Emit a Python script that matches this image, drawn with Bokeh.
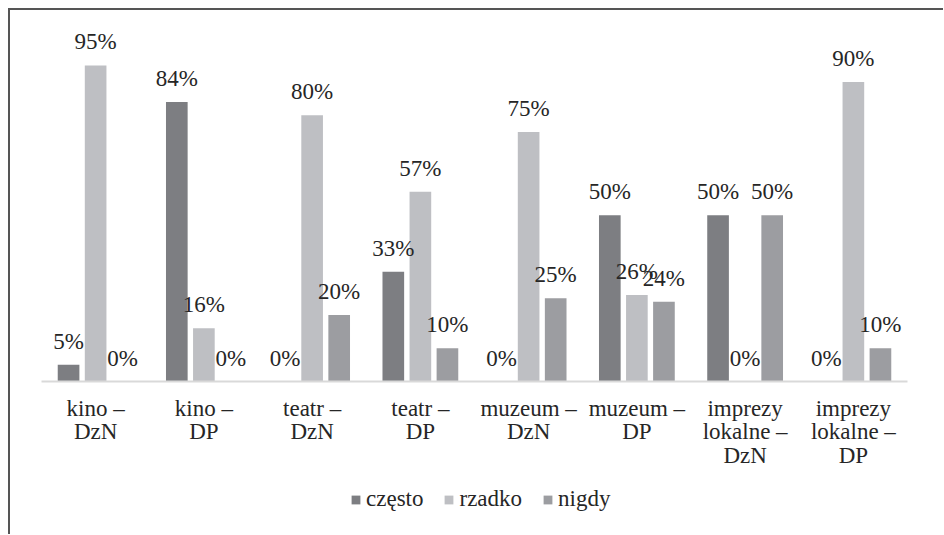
from bokeh.plotting import figure
from bokeh.models import FactorRange, ColumnDataSource, LabelSet, Legend, LegendItem
from bokeh.layouts import column
from bokeh.transform import dodge
from bokeh.core.properties import value
from bokeh.embed import file_html
from bokeh.resources import INLINE

categories = ["kino –\nDzN", "kino –\nDP", "teatr –\nDzN", "teatr –\nDP",
              "muzeum –\nDzN", "muzeum –\nDP",
              "imprezy\nlokalne –\nDzN", "imprezy\nlokalne –\nDP"]
series = ["często", "rzadko", "nigdy"]
czesto = [5, 84, 0, 33, 0, 50, 50, 0]
rzadko = [95, 16, 80, 57, 75, 26, 0, 90]
nigdy = [0, 0, 20, 10, 25, 24, 50, 10]

colors = ["#7d7e82", "#bebfc3", "#9c9da1"]
FONT = "Liberation Serif"
TXT = "#262626"

data = dict(cat=categories, czesto=czesto, rzadko=rzadko, nigdy=nigdy)
keys = ["czesto", "rzadko", "nigdy"]
for k in keys:
    data[k + "_lbl"] = [f"{v}%" for v in data[k]]
src = ColumnDataSource(data)

p = figure(x_range=FactorRange(*categories), y_range=(0, 110),
           frame_width=866, frame_height=366, output_backend="svg", toolbar_location=None,
           y_axis_location=None,
           min_border_left=31, min_border_right=36, min_border_top=5, min_border_bottom=95)
p.outline_line_color = None
p.xgrid.grid_line_color = None
p.ygrid.grid_line_color = None
p.background_fill_color = "white"
p.border_fill_color = "white"

offsets = [-0.25, 0.0, 0.25]
for key, col, off in zip(keys, colors, offsets):
    p.vbar(x=dodge("cat", off, range=p.x_range), top=key, width=0.2, source=src,
           fill_color=col, line_color=None)
    p.add_layout(LabelSet(x=dodge("cat", off, range=p.x_range), y=key, text=key + "_lbl",
                          source=src, text_align="center", text_baseline="alphabetic",
                          y_offset=16, text_font=value(FONT), text_font_size="23px",
                          text_color=TXT))

ax = p.xaxis[0]
ax.axis_line_color = "#d9d9d9"
ax.axis_line_width = 2
ax.major_tick_line_color = None
ax.minor_tick_line_color = None
ax.major_tick_out = 0
ax.major_tick_in = 0
ax.major_label_standoff = 14
ax.major_label_text_font = FONT
ax.major_label_text_font_size = "23px"
ax.major_label_text_color = TXT
ax.major_label_text_line_height = 0.95

# legend strip below the chart: hidden copies of the series supply the legend swatches
q = figure(width=933, height=58, x_range=FactorRange(*categories), y_range=(0, 110),
           output_backend="svg", toolbar_location=None,
           x_axis_location=None, y_axis_location=None, min_border=0)
q.outline_line_color = None
q.xgrid.grid_line_color = None
q.ygrid.grid_line_color = None
q.background_fill_color = "white"
q.border_fill_color = "white"
items = []
for key, name, col, off in zip(keys, series, colors, offsets):
    r = q.vbar(x=dodge("cat", off, range=q.x_range), top=key, width=0.2, source=src,
               fill_color=col, line_color=None, visible=False)
    items.append(LegendItem(label=name, renderers=[r]))
legend = Legend(items=items, orientation="horizontal", location=(309, 22),
                glyph_width=11, glyph_height=11, label_standoff=5, spacing=20,
                padding=0, margin=0, border_line_color=None, background_fill_alpha=0,
                inactive_fill_alpha=0,
                label_text_font=FONT, label_text_font_size="23px", label_text_color=TXT)
q.add_layout(legend, "center")

layout = column(p, q, spacing=0)
layout.styles = {"border-top": "2px solid #555555", "border-left": "2px solid #555555",
                 "margin-left": "8px", "margin-top": "8px"}

open("out.html", "w").write(file_html(layout, INLINE))
